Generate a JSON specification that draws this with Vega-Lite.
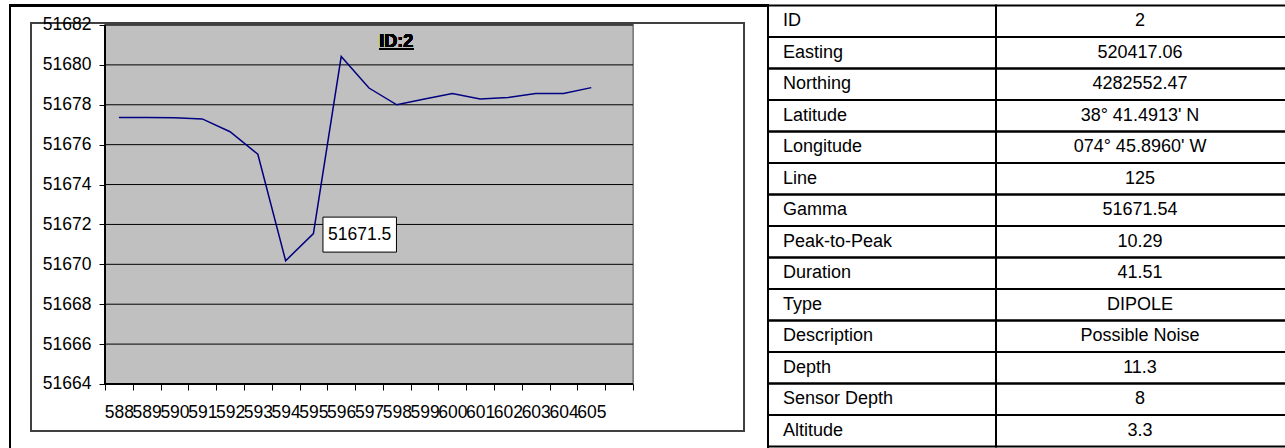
{
  "$schema": "https://vega.github.io/schema/vega-lite/v6.json",
  "width": 1285,
  "height": 448,
  "padding": 0,
  "autosize": {"type": "none"},
  "background": "white",
  "config": {
    "view": {"stroke": null},
    "font": "Liberation Sans",
    "text": {"font": "Liberation Sans"},
    "axis": {"zindex": 1}
  },
  "datasets": {
    "series": [
      {"x": 588, "gamma": 51677.36},
      {"x": 589, "gamma": 51677.36},
      {"x": 590, "gamma": 51677.35},
      {"x": 591, "gamma": 51677.29},
      {"x": 592, "gamma": 51676.65},
      {"x": 593, "gamma": 51675.52},
      {"x": 594, "gamma": 51670.18},
      {"x": 595, "gamma": 51671.54},
      {"x": 596, "gamma": 51680.42},
      {"x": 597, "gamma": 51678.84},
      {"x": 598, "gamma": 51678.0},
      {"x": 599, "gamma": 51678.29},
      {"x": 600, "gamma": 51678.56},
      {"x": 601, "gamma": 51678.29},
      {"x": 602, "gamma": 51678.36},
      {"x": 603, "gamma": 51678.56},
      {"x": 604, "gamma": 51678.56},
      {"x": 605, "gamma": 51678.86}
    ],
    "grid": [
      {"v": 51666}, {"v": 51668}, {"v": 51670}, {"v": 51672},
      {"v": 51674}, {"v": 51676}, {"v": 51678}, {"v": 51680}, {"v": 51682}
    ],
    "info": [
      {"label": "ID", "value": "2"},
      {"label": "Easting", "value": "520417.06"},
      {"label": "Northing", "value": "4282552.47"},
      {"label": "Latitude", "value": "38° 41.4913' N"},
      {"label": "Longitude", "value": "074° 45.8960' W"},
      {"label": "Line", "value": "125"},
      {"label": "Gamma", "value": "51671.54"},
      {"label": "Peak-to-Peak", "value": "10.29"},
      {"label": "Duration", "value": "41.51"},
      {"label": "Type", "value": "DIPOLE"},
      {"label": "Description", "value": "Possible Noise"},
      {"label": "Depth", "value": "11.3"},
      {"label": "Sensor Depth", "value": "8"},
      {"label": "Altitude", "value": "3.3"}
    ]
  },
  "layer": [
    {
      "data": {"name": "series"},
      "layer": [
        {
          "mark": {"type": "rect", "filled": false, "stroke": "black", "strokeWidth": 2},
          "encoding": {
            "x": {"datum": 584.0814, "type": "quantitative", "title": null, "scale": {"domain": [583.7215, 629.9635], "nice": false, "zero": false}},
            "x2": {"datum": 611.3588},
            "y": {"datum": 51682.978, "type": "quantitative", "title": null, "scale": {"domain": [51660.7906, 51683.2535], "nice": false, "zero": false}},
            "y2": {"datum": 51659}
          }
        },
        {
          "mark": {"type": "rect", "filled": false, "stroke": "#404040", "strokeWidth": 1.5},
          "encoding": {
            "x": {"datum": 584.837, "type": "quantitative", "title": null},
            "x2": {"datum": 610.4947},
            "y": {"datum": 51682.1, "type": "quantitative", "title": null},
            "y2": {"datum": 51661.643}
          }
        },
        {
          "mark": {"type": "rect", "fill": "#c0c0c0", "stroke": "#808080", "strokeWidth": 1.5},
          "encoding": {
            "x": {"datum": 587.5, "type": "quantitative", "title": null},
            "x2": {"datum": 606.5},
            "y": {"datum": 51682, "type": "quantitative", "title": null},
            "y2": {"datum": 51664}
          }
        },
        {
          "data": {"name": "grid"},
          "mark": {"type": "rule", "color": "black", "strokeWidth": 1},
          "encoding": {
            "y": {"field": "v", "type": "quantitative", "title": null},
            "x": {"datum": 587.5, "type": "quantitative", "title": null},
            "x2": {"datum": 606.5}
          }
        },
        {
          "mark": {"type": "rule", "color": "black", "strokeWidth": 1.5},
          "encoding": {
            "x": {"datum": 587.5, "type": "quantitative", "title": null},
            "y": {"datum": 51664, "type": "quantitative", "title": null},
            "y2": {"datum": 51682}
          }
        },
        {
          "mark": {"type": "rule", "color": "black", "strokeWidth": 1.5},
          "encoding": {
            "y": {"datum": 51664, "type": "quantitative", "title": null},
            "x": {"datum": 587.5, "type": "quantitative", "title": null},
            "x2": {"datum": 606.5}
          }
        },
        {
          "mark": {"type": "text", "text": "ID:2", "fontSize": 18, "fontWeight": "bold", "align": "center", "baseline": "alphabetic", "color": "black"},
          "encoding": {
            "x": {"datum": 597.983, "type": "quantitative", "title": null},
            "y": {"datum": 51680.897, "type": "quantitative", "title": null}
          }
        },
        {
          "mark": {"type": "rule", "color": "black", "strokeWidth": 1.5},
          "encoding": {
            "y": {"datum": 51680.797, "type": "quantitative", "title": null},
            "x": {"datum": 597.371, "type": "quantitative", "title": null},
            "x2": {"datum": 598.594}
          }
        },
        {
          "mark": {"type": "line", "stroke": "#000080", "strokeWidth": 1.5},
          "encoding": {
            "x": {
              "field": "x", "type": "quantitative", "title": null,
              "axis": {
                "orient": "bottom", "offset": -64,
                "values": [587.5, 588.5, 589.5, 590.5, 591.5, 592.5, 593.5, 594.5, 595.5, 596.5, 597.5, 598.5, 599.5, 600.5, 601.5, 602.5, 603.5, 604.5, 605.5, 606.5],
                "labelExpr": "datum.value < 605 ? format(datum.value + 0.5, 'd') : ''",
                "labelOffset": 13.894,
                "labelAlign": "center",
                "labelBaseline": "top",
                "labelPadding": 13,
                "labelFontSize": 17.5,
                "labelFont": "Liberation Sans",
                "labelColor": "black",
                "labelOverlap": false,
                "labelBound": false,
                "labelFlush": false,
                "tickSize": 6,
                "tickColor": "black",
                "tickWidth": 1,
                "domain": false,
                "grid": false,
                "title": null,
                "zindex": 1
              }
            },
            "y": {
              "field": "gamma", "type": "quantitative", "title": null,
              "axis": {
                "orient": "left", "offset": -105,
                "values": [51664, 51666, 51668, 51670, 51672, 51674, 51676, 51678, 51680, 51682],
                "format": "d",
                "labelPadding": 8,
                "labelFontSize": 17.5,
                "labelFont": "Liberation Sans",
                "labelColor": "black",
                "labelOverlap": false,
                "labelBound": false,
                "labelFlush": false,
                "tickSize": 6,
                "tickColor": "black",
                "tickWidth": 1,
                "domain": false,
                "grid": false,
                "title": null,
                "zindex": 1
              }
            }
          }
        },
        {
          "transform": [{"filter": "datum.x == 595"}],
          "mark": {"type": "point", "shape": "M-1,-0.476H1V0.476H-1Z", "size": 5402, "filled": true, "fill": "white", "stroke": "black", "strokeWidth": 1, "opacity": 1, "xOffset": 46.3, "yOffset": 1},
          "encoding": {
            "x": {"field": "x", "type": "quantitative", "title": null},
            "y": {"field": "gamma", "type": "quantitative", "title": null}
          }
        },
        {
          "transform": [{"filter": "datum.x == 595"}],
          "mark": {"type": "text", "xOffset": 46.3, "yOffset": 1, "fontSize": 17.5, "align": "center", "baseline": "middle", "color": "black"},
          "encoding": {
            "x": {"field": "x", "type": "quantitative", "title": null},
            "y": {"field": "gamma", "type": "quantitative", "title": null},
            "text": {"field": "gamma", "type": "quantitative", "format": ".1f"}
          }
        }
      ]
    },
    {
      "data": {"name": "info"},
      "encoding": {
        "y": {"field": "label", "type": "nominal", "sort": null, "axis": null, "scale": {"paddingInner": 0, "paddingOuter": 0.111, "align": 0.786}}
      },
      "layer": [
        {
          "mark": {"type": "rect", "filled": false, "stroke": "black", "strokeWidth": 2},
          "encoding": {
            "x": {"datum": 0, "type": "quantitative", "axis": null, "scale": {"domain": [-768, 517], "nice": false, "zero": false}},
            "x2": {"datum": 228}
          }
        },
        {
          "mark": {"type": "rect", "filled": false, "stroke": "black", "strokeWidth": 2},
          "encoding": {
            "x": {"datum": 228, "type": "quantitative", "axis": null},
            "x2": {"datum": 519}
          }
        },
        {
          "mark": {"type": "text", "align": "left", "baseline": "middle", "fontSize": 18, "color": "black"},
          "encoding": {
            "x": {"datum": 15, "type": "quantitative", "axis": null},
            "text": {"field": "label", "type": "nominal"}
          }
        },
        {
          "mark": {"type": "text", "align": "center", "baseline": "middle", "fontSize": 18, "color": "black"},
          "encoding": {
            "x": {"datum": 372, "type": "quantitative", "axis": null},
            "text": {"field": "value", "type": "nominal"}
          }
        }
      ]
    }
  ],
  "resolve": {"scale": {"x": "independent", "y": "independent"}}
}
